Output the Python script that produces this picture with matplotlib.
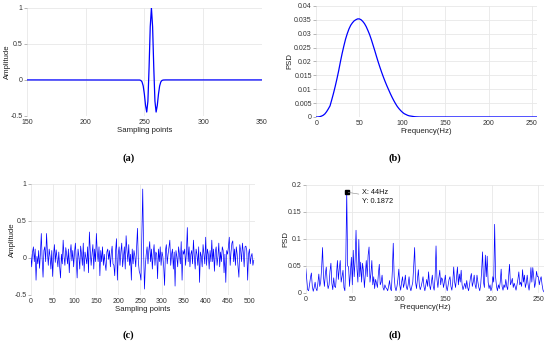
import numpy as np
import matplotlib
matplotlib.use("Agg")
import matplotlib.pyplot as plt

# ---------------- data ----------------
# (a) wavelet: samples 150..350, non-zero part centred at 256 (offsets -11..11)
a_x = list(range(150, 351))
a_center = 256
a_lobe = [1.0, 0.740, 0.172, -0.295, -0.446, -0.354, -0.198, -0.083,
          -0.0275, -0.0072, -0.0015, -0.0002]  # value at offset 0..11 (symmetric)

# (b) PSD of wavelet
b_freq = [0, 2, 4, 6, 8, 10, 12, 14, 16, 18, 20, 22, 24, 26, 28, 30, 32, 34, 36, 38,
          40, 42, 44, 46, 48, 50, 52, 54, 56, 58, 60, 62, 64, 66, 68, 70, 72, 74, 76,
          78, 80, 82, 84, 86, 88, 90, 92, 94, 96, 98, 100, 102, 104, 106, 108, 110,
          112, 114, 116, 118, 120, 256]
b_psd = [0, 0.00001, 0.0001, 0.0003, 0.0006, 0.0011, 0.0019, 0.0029, 0.0040, 0.0062,
         0.0085, 0.0110, 0.0137, 0.0166, 0.0198, 0.0228, 0.0255, 0.0280, 0.0300, 0.0317,
         0.0330, 0.0339, 0.0346, 0.0350, 0.0353, 0.0353, 0.0350, 0.0344, 0.0336, 0.0325,
         0.0311, 0.0296, 0.0278, 0.0258, 0.0238, 0.0217, 0.0197, 0.0178, 0.0160, 0.0143,
         0.0127, 0.0112, 0.0098, 0.0084, 0.0071, 0.0059, 0.0048, 0.0038, 0.0030, 0.0023,
         0.0017, 0.0012, 0.0009, 0.0006, 0.0004, 0.0003, 0.0002, 0.0001, 0.00005,
         0.00002, 0.0, 0.0]

# (c) noisy signal (every second sample, 0..510)
c_x = list(range(0, 512, 2))
c_y = [0.05, -0.12, 0.08, 0.15, -0.05, 0.12, -0.3, 0.02, -0.08, 0.1, -0.14, 0.06, 0.33, -0.02, -0.26, 0.1,
       0.15, -0.05, 0.33, 0.08, -0.1, 0.12, 0.02, -0.15, 0.1, -0.25, 0.04, 0.18, -0.06, 0.11, 0.0, -0.12,
       0.08, -0.12, -0.27, 0.05, -0.08, 0.24, 0.02, -0.1, 0.14, 0.05, -0.08, 0.12, -0.2, 0.06, 0.18, -0.04,
       0.1, -0.12, 0.08, 0.2, -0.05, -0.27, 0.12, 0.02, -0.15, 0.16, 0.05, -0.1, 0.2, -0.18, 0.08, 0.0,
       -0.08, 0.15, -0.2, 0.35, 0.1, -0.1, 0.05, 0.18, -0.15, 0.12, -0.05, 0.33, 0.08, -0.05, 0.15, -0.24,
       0.1, -0.05, 0.15, -0.1, 0.05, -0.08, -0.17, 0.08, 0.12, -0.02, 0.1, -0.12, 0.06, 0.16, -0.08, -0.1,
       -0.24, 0.1, 0.26, -0.3, 0.05, 0.15, -0.1, 0.08, 0.2, -0.12, 0.02, 0.15, -0.15, 0.3, 0.1, -0.05,
       0.18, -0.1, 0.05, -0.3, 0.12, -0.08, 0.1, 0.02, -0.12, 0.15, 0.4, -0.05, -0.18, -0.22, -0.3, 0.35,
       0.93, 0.1, -0.42, -0.1, 0.05, 0.15, -0.08, 0.1, 0.22, -0.05, 0.12, -0.15, 0.06, 0.18, -0.1, 0.08,
       0.05, -0.28, 0.12, -0.05, 0.15, -0.1, 0.08, 0.02, -0.12, -0.37, 0.1, 0.18, -0.08, 0.05, 0.15, 0.24,
       -0.1, 0.05, 0.12, -0.15, 0.08, -0.38, 0.1, 0.02, -0.12, 0.15, 0.05, -0.08, 0.22, -0.3, 0.1, 0.05,
       0.12, -0.1, 0.08, 0.41, -0.05, 0.15, -0.12, 0.05, 0.1, -0.08, 0.24, 0.02, -0.15, 0.12, 0.05, -0.1,
       0.15, -0.33, 0.08, 0.02, -0.12, 0.18, 0.05, -0.08, 0.28, -0.1, 0.12, 0.05, -0.15, 0.1, -0.05, 0.24,
       -0.05, 0.12, -0.18, 0.08, 0.15, -0.1, 0.02, 0.2, -0.12, 0.08, -0.05, 0.15, 0.1, -0.2, 0.05, -0.33,
       0.1, 0.05, 0.15, 0.28, -0.1, 0.08, 0.2, 0.23, -0.05, 0.12, -0.1, 0.15, 0.05, -0.12, -0.26, 0.18,
       0.1, -0.05, 0.2, 0.08, -0.12, 0.15, 0.16, 0.1, -0.3, 0.05, 0.12, -0.08, 0.02, 0.06, -0.1, -0.03]

# (d) noisy PSD, 0..256 Hz
d_freq = list(range(0, 257))
d_psd = [0.045, 0.025, 0.006, 0.004, 0.015, 0.028, 0.037, 0.012, 0.003, 0.01,
         0.02, 0.008, 0.004, 0.018, 0.035, 0.012, 0.02, 0.045, 0.084, 0.03,
         0.012, 0.035, 0.048, 0.02, 0.008, 0.015, 0.04, 0.055, 0.018, 0.006,
         0.028, 0.012, 0.01, 0.035, 0.06, 0.025, 0.045, 0.06, 0.02, 0.03,
         0.042, 0.01, 0.004, 0.06, 0.1872, 0.05, 0.048, 0.012, 0.04, 0.066,
         0.015, 0.079, 0.03, 0.06, 0.116, 0.045, 0.02, 0.099, 0.03, 0.057,
         0.02, 0.055, 0.04, 0.01, 0.035, 0.06, 0.03, 0.07, 0.085, 0.02,
         0.035, 0.06, 0.015, 0.03, 0.008, 0.025, 0.018, 0.01, 0.035, 0.053,
         0.015, 0.02, 0.033, 0.01, 0.005, 0.015, 0.01, 0.008, 0.004, 0.012,
         0.023, 0.008, 0.004, 0.04, 0.092, 0.03, 0.01, 0.004, 0.012, 0.025,
         0.044, 0.015, 0.005, 0.02, 0.03, 0.01, 0.018, 0.033, 0.012, 0.006,
         0.015, 0.03, 0.01, 0.004, 0.012, 0.02, 0.05, 0.084, 0.02, 0.008,
         0.025, 0.043, 0.015, 0.006, 0.012, 0.02, 0.03, 0.012, 0.004, 0.015,
         0.025, 0.012, 0.039, 0.015, 0.006, 0.02, 0.033, 0.012, 0.005, 0.03,
         0.087, 0.025, 0.01, 0.028, 0.042, 0.015, 0.028, 0.025, 0.01, 0.02,
         0.033, 0.012, 0.004, 0.015, 0.025, 0.03, 0.012, 0.005, 0.02, 0.048,
         0.02, 0.01, 0.03, 0.048, 0.015, 0.035, 0.02, 0.042, 0.015, 0.006,
         0.012, 0.018, 0.008, 0.023, 0.01, 0.004, 0.015, 0.028, 0.036, 0.012,
         0.02, 0.033, 0.015, 0.008, 0.033, 0.02, 0.01, 0.004, 0.015, 0.04,
         0.076, 0.02, 0.01, 0.07, 0.03, 0.068, 0.02, 0.008, 0.015, 0.004,
         0.01, 0.03, 0.02, 0.127, 0.03, 0.012, 0.004, 0.015, 0.008, 0.02,
         0.044, 0.012, 0.005, 0.015, 0.01, 0.025, 0.012, 0.006, 0.03, 0.053,
         0.015, 0.02, 0.027, 0.01, 0.018, 0.012, 0.005, 0.015, 0.025, 0.039,
         0.015, 0.02, 0.012, 0.043, 0.02, 0.033, 0.01, 0.018, 0.033, 0.015,
         0.005, 0.02, 0.047, 0.02, 0.047, 0.03, 0.01, 0.02, 0.04, 0.03,
         0.03, 0.015, 0.025, 0.03, 0.015, 0.005, 0.002]

peak_x, peak_y = 44, 0.1872
panel_labels = ["(a)", "(b)", "(c)", "(d)"]

# ---------------- figure ----------------
plt.rcParams['font.family'] = ['Liberation Sans', 'DejaVu Sans']
fig = plt.figure(figsize=(5.5, 3.43), dpi=100)

TICK_C = '#333333'
GRID_C = '#e8e8e8'
BLUE = '#0000ff'


def style(ax, ylab_x):
    for s in ax.spines.values():
        s.set_visible(False)
    ax.grid(True, color=GRID_C, linewidth=0.6)
    ax.set_axisbelow(True)
    ax.tick_params(labelsize=5, colors=TICK_C, length=2, width=0.5, pad=1.2)
    ax.tick_params(axis='y', colors='#999999', labelcolor=TICK_C)
    ax.tick_params(axis='x', length=0, pad=2)
    ax.yaxis.set_label_coords(ylab_x, 0.5)


# (a)
a_y = [0.0] * len(a_x)
for k, v in enumerate(a_lobe):
    a_y[a_x.index(a_center + k)] = v
    a_y[a_x.index(a_center - k)] = v
ax1 = fig.add_axes([0.049, 0.662, 0.427, 0.315])
ax1.plot(a_x, a_y, color=BLUE, lw=0.9)
ax1.set_xlim(150, 350)
ax1.set_ylim(-0.5, 1)
ax1.set_xticks([150, 200, 250, 300, 350])
ax1.set_yticks([-0.5, 0, 0.5, 1])
ax1.set_yticklabels(['-0.5', '0', '0.5', '1'])
ax1.set_xlabel('Sampling points', fontsize=5.6, labelpad=1, color='#222222')
ax1.set_ylabel('Amplitude', fontsize=5.6, color='#222222')
style(ax1, -0.07)

# (b)
ax2 = fig.add_axes([0.575, 0.659, 0.401, 0.324])
ax2.plot(b_freq, b_psd, color=BLUE, lw=0.9)
ax2.set_xlim(0, 256)
ax2.set_ylim(0, 0.04)
ax2.set_xticks([0, 50, 100, 150, 200, 250])
ax2.set_yticks([0, 0.005, 0.01, 0.015, 0.02, 0.025, 0.03, 0.035, 0.04])
ax2.set_yticklabels(['0', '0.005', '0.01', '0.015', '0.02', '0.025', '0.03', '0.035', '0.04'])
ax2.set_xlabel('Frequency(Hz)', fontsize=5.6, labelpad=1, color='#222222')
ax2.set_ylabel('PSD', fontsize=5.6, color='#222222')
style(ax2, -0.103)

# (c)
ax3 = fig.add_axes([0.056, 0.140, 0.407, 0.324])
ax3.plot(c_x, c_y, color=BLUE, lw=0.5)
ax3.set_xlim(0, 512)
ax3.set_ylim(-0.5, 1)
ax3.set_xticks(list(range(0, 501, 50)))
ax3.set_yticks([-0.5, 0, 0.5, 1])
ax3.set_yticklabels(['-0.5', '0', '0.5', '1'])
ax3.set_xlabel('Sampling points', fontsize=5.6, labelpad=1, color='#222222')
ax3.set_ylabel('Amplitude', fontsize=5.6, color='#222222')
style(ax3, -0.065)

# (d)
ax4 = fig.add_axes([0.556, 0.146, 0.433, 0.315])
ax4.plot(d_freq, d_psd, color=BLUE, lw=0.5)
ax4.set_xlim(0, 256)
ax4.set_ylim(0, 0.2)
ax4.set_xticks([0, 50, 100, 150, 200, 250])
ax4.set_yticks([0, 0.05, 0.1, 0.15, 0.2])
ax4.set_yticklabels(['0', '0.05', '0.1', '0.15', '0.2'])
ax4.set_xlabel('Frequency(Hz)', fontsize=5.6, labelpad=1, color='#222222')
ax4.set_ylabel('PSD', fontsize=5.6, color='#222222')
style(ax4, -0.067)
ax4.plot([peak_x], [peak_y], marker='s', color='black', markersize=2.2)
ax4.annotate('X: %dHz\nY: %.4f' % (peak_x, peak_y), xy=(peak_x + 1.5, peak_y - 0.001),
             xytext=(60, 0.162), fontsize=5.3, color='#111111',
             arrowprops=dict(arrowstyle='-', color='#888888', lw=0.4, shrinkA=0, shrinkB=0),
             va='bottom', ha='left', linespacing=1.5)

# panel labels
for (px, py), lab in zip([(0.233, 0.538), (0.718, 0.538), (0.233, 0.023), (0.718, 0.023)],
                         panel_labels):
    fig.text(px, py, lab, fontsize=7.5, ha='center', va='center',
             family=['Liberation Serif', 'DejaVu Serif'], fontweight='bold')

fig.savefig('out.png', dpi=100)
